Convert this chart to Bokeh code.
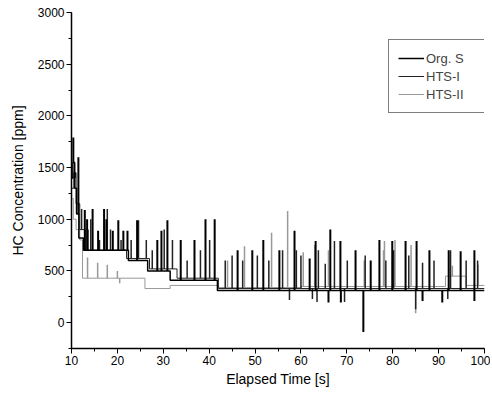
import numpy as np
from bokeh.plotting import figure
from bokeh.models import ColumnDataSource, SingleIntervalTicker, Range1d
from bokeh.embed import file_html
from bokeh.resources import INLINE

# ---- data ----
org_step_t = [10.0, 10.3, 10.7, 11.1, 11.6, 12.6, 22.4, 26.6, 31.5, 41.8, 100.0]
org_step_v = [1400, 1550, 1300, 1050, 820, 700, 600, 500, 410, 310, 310]
org_spike_t = [10.4, 11.5, 12.9, 13.4, 14.6, 15.8, 17.1, 17.6, 19.0, 20.2, 21.3, 22.2, 24.3,
               28.7, 29.6, 30.9, 33.8, 36.8, 39.2, 41.2, 46.2, 49.4, 51.8, 55.3, 58.6, 61.9,
               63.2, 66.4, 68.6, 71.9, 75.2, 77.1, 79.9, 82.8, 85.2, 88.0, 92.2, 94.8, 97.8]
org_spike_v = [1790, 1600, 1090, 1000, 1100, 890, 1100, 1000, 890, 990, 890, 890, 990,
               800, 890, 990, 800, 800, 1000, 1000, 700, 700, 800, 700, 890, 620,
               790, 900, 790, 700, 600, 800, 790, 790, 790, 700, 700, 690, 700]
org_dip_t = [66.0, 68.7, 73.6, 86.5, 90.8, 97.8]
org_dip_v = [195, 195, -90, 210, 195, 210]

hts1_step_t = [10.0, 10.5, 11.0, 11.8, 13.0, 22.0, 27.0, 33.0, 42.0, 100.0]
hts1_step_v = [1300, 1450, 1150, 900, 700, 620, 520, 430, 330, 330]
hts1_spike_t = [10.8, 12.2, 13.6, 14.2, 16.1, 17.8, 18.5, 20.8, 23.0, 24.6, 26.3, 27.6, 30.2,
                32.0, 35.2, 38.1, 40.1, 43.5, 45.0, 47.3, 50.5, 53.0, 56.0, 59.0, 60.0, 63.8,
                65.3, 67.3, 70.1, 74.0, 78.5, 80.2, 83.5, 86.5, 89.0, 92.6, 96.0, 98.5]
hts1_spike_v = [1400, 1100, 900, 1000, 800, 1100, 900, 800, 800, 990, 800, 700, 900,
                800, 600, 700, 800, 600, 650, 600, 650, 600, 700, 700, 650, 700,
                570, 790, 600, 650, 600, 700, 650, 580, 600, 700, 600, 600]
hts1_dip_t = [57.5, 62.5, 63.5, 69.5, 85.0, 92.0]
hts1_dip_v = [220, 230, 200, 200, 130, 230]

hts2_step_t = [10.0, 10.4, 11.0, 11.8, 12.4, 26.0, 31.5, 42.0, 60.0, 91.5, 96.0, 100.0]
hts2_step_v = [1200, 1000, 900, 800, 430, 330, 360, 340, 350, 450, 360, 360]
hts2_spike_t = [13.5, 15.7, 17.8, 20.0, 44.0, 47.7, 53.6, 57.1, 60.5, 63.0, 66.0, 73.8,
                78.0, 78.2, 80.5, 84.0, 93.0, 98.6]
hts2_spike_v = [630, 580, 560, 500, 600, 740, 870, 1080, 680, 750, 700, 600,
                700, 790, 800, 750, 550, 560]
hts2_dip_t = [20.5, 85.0]
hts2_dip_v = [380, 90]

x_ticks_interval = 10
y_ticks_interval = 500

FONT = "Liberation Sans"

p = figure(width=490, height=400, output_backend="svg", toolbar_location=None,
           x_range=Range1d(10, 100), y_range=Range1d(-250, 3000),
           min_border_left=71, min_border_right=6, min_border_top=12, min_border_bottom=52)
p.outline_line_color = None
p.xgrid.visible = False
p.ygrid.visible = False
p.background_fill_color = "white"
p.border_fill_color = "white"


def base_at(step_t, step_v, t):
    idx = np.searchsorted(step_t, t, side="right") - 1
    idx = np.clip(idx, 0, len(step_v) - 1)
    return np.asarray(step_v)[idx]


def draw(step_t, step_v, sp_t, sp_v, dp_t, dp_v, color, width, label):
    p.step(step_t, step_v, mode="after", line_color=color, line_width=width, legend_label=label)
    st = np.asarray(sp_t + dp_t, dtype=float)
    sv = np.asarray(sp_v + dp_v, dtype=float)
    src = ColumnDataSource(dict(x=st, y0=base_at(step_t, step_v, st), y1=sv))
    p.segment(x0="x", y0="y0", x1="x", y1="y1", source=src, line_color=color, line_width=width + 0.5)


draw(hts2_step_t, hts2_step_v, hts2_spike_t, hts2_spike_v, hts2_dip_t, hts2_dip_v, "#999999", 1.0, "HTS-II")
draw(hts1_step_t, hts1_step_v, hts1_spike_t, hts1_spike_v, hts1_dip_t, hts1_dip_v, "#222222", 1.0, "HTS-I")
draw(org_step_t, org_step_v, org_spike_t, org_spike_v, org_dip_t, org_dip_v, "black", 1.5, "Org. S")

p.xaxis.ticker = SingleIntervalTicker(interval=x_ticks_interval, num_minor_ticks=2)
p.yaxis.ticker = SingleIntervalTicker(interval=y_ticks_interval, num_minor_ticks=2)
for ax in (p.xaxis[0], p.yaxis[0]):
    ax.axis_line_color = "black"
    ax.axis_line_width = 1.5
    ax.major_tick_line_color = "black"
    ax.minor_tick_line_color = "black"
    ax.major_tick_out = 5
    ax.major_tick_in = 0
    ax.minor_tick_out = 3
    ax.minor_tick_in = 0
    ax.major_label_text_font = FONT
    ax.major_label_text_font_size = "12px"
    ax.major_label_text_color = "black"
    ax.axis_label_text_font = FONT
    ax.axis_label_text_font_size = "14px"
    ax.axis_label_text_font_style = "normal"
    ax.axis_label_text_color = "black"
p.xaxis.axis_label = "Elapsed Time [s]"
p.yaxis.axis_label = "HC Concentration [ppm]"
p.xaxis.major_label_standoff = 2
p.yaxis.major_label_standoff = 2
p.xaxis.axis_label_standoff = 3
p.yaxis.axis_label_standoff = 9

# reorder legend: Org. S, HTS-I, HTS-II
lg = p.legend[0]
lg.items = [lg.items[2], lg.items[1], lg.items[0]]
lg.location = (317, 235)
lg.border_line_color = "black"
lg.border_line_width = 1
lg.background_fill_color = "white"
lg.background_fill_alpha = 1
lg.label_text_font = FONT
lg.label_text_font_size = "13px"
lg.label_height = 18
lg.glyph_height = 18
lg.glyph_width = 26
lg.label_width = 54
lg.spacing = 0
lg.padding = 9
lg.margin = 0
lg.label_standoff = 2

open("out.html", "w").write(file_html(p, INLINE))
